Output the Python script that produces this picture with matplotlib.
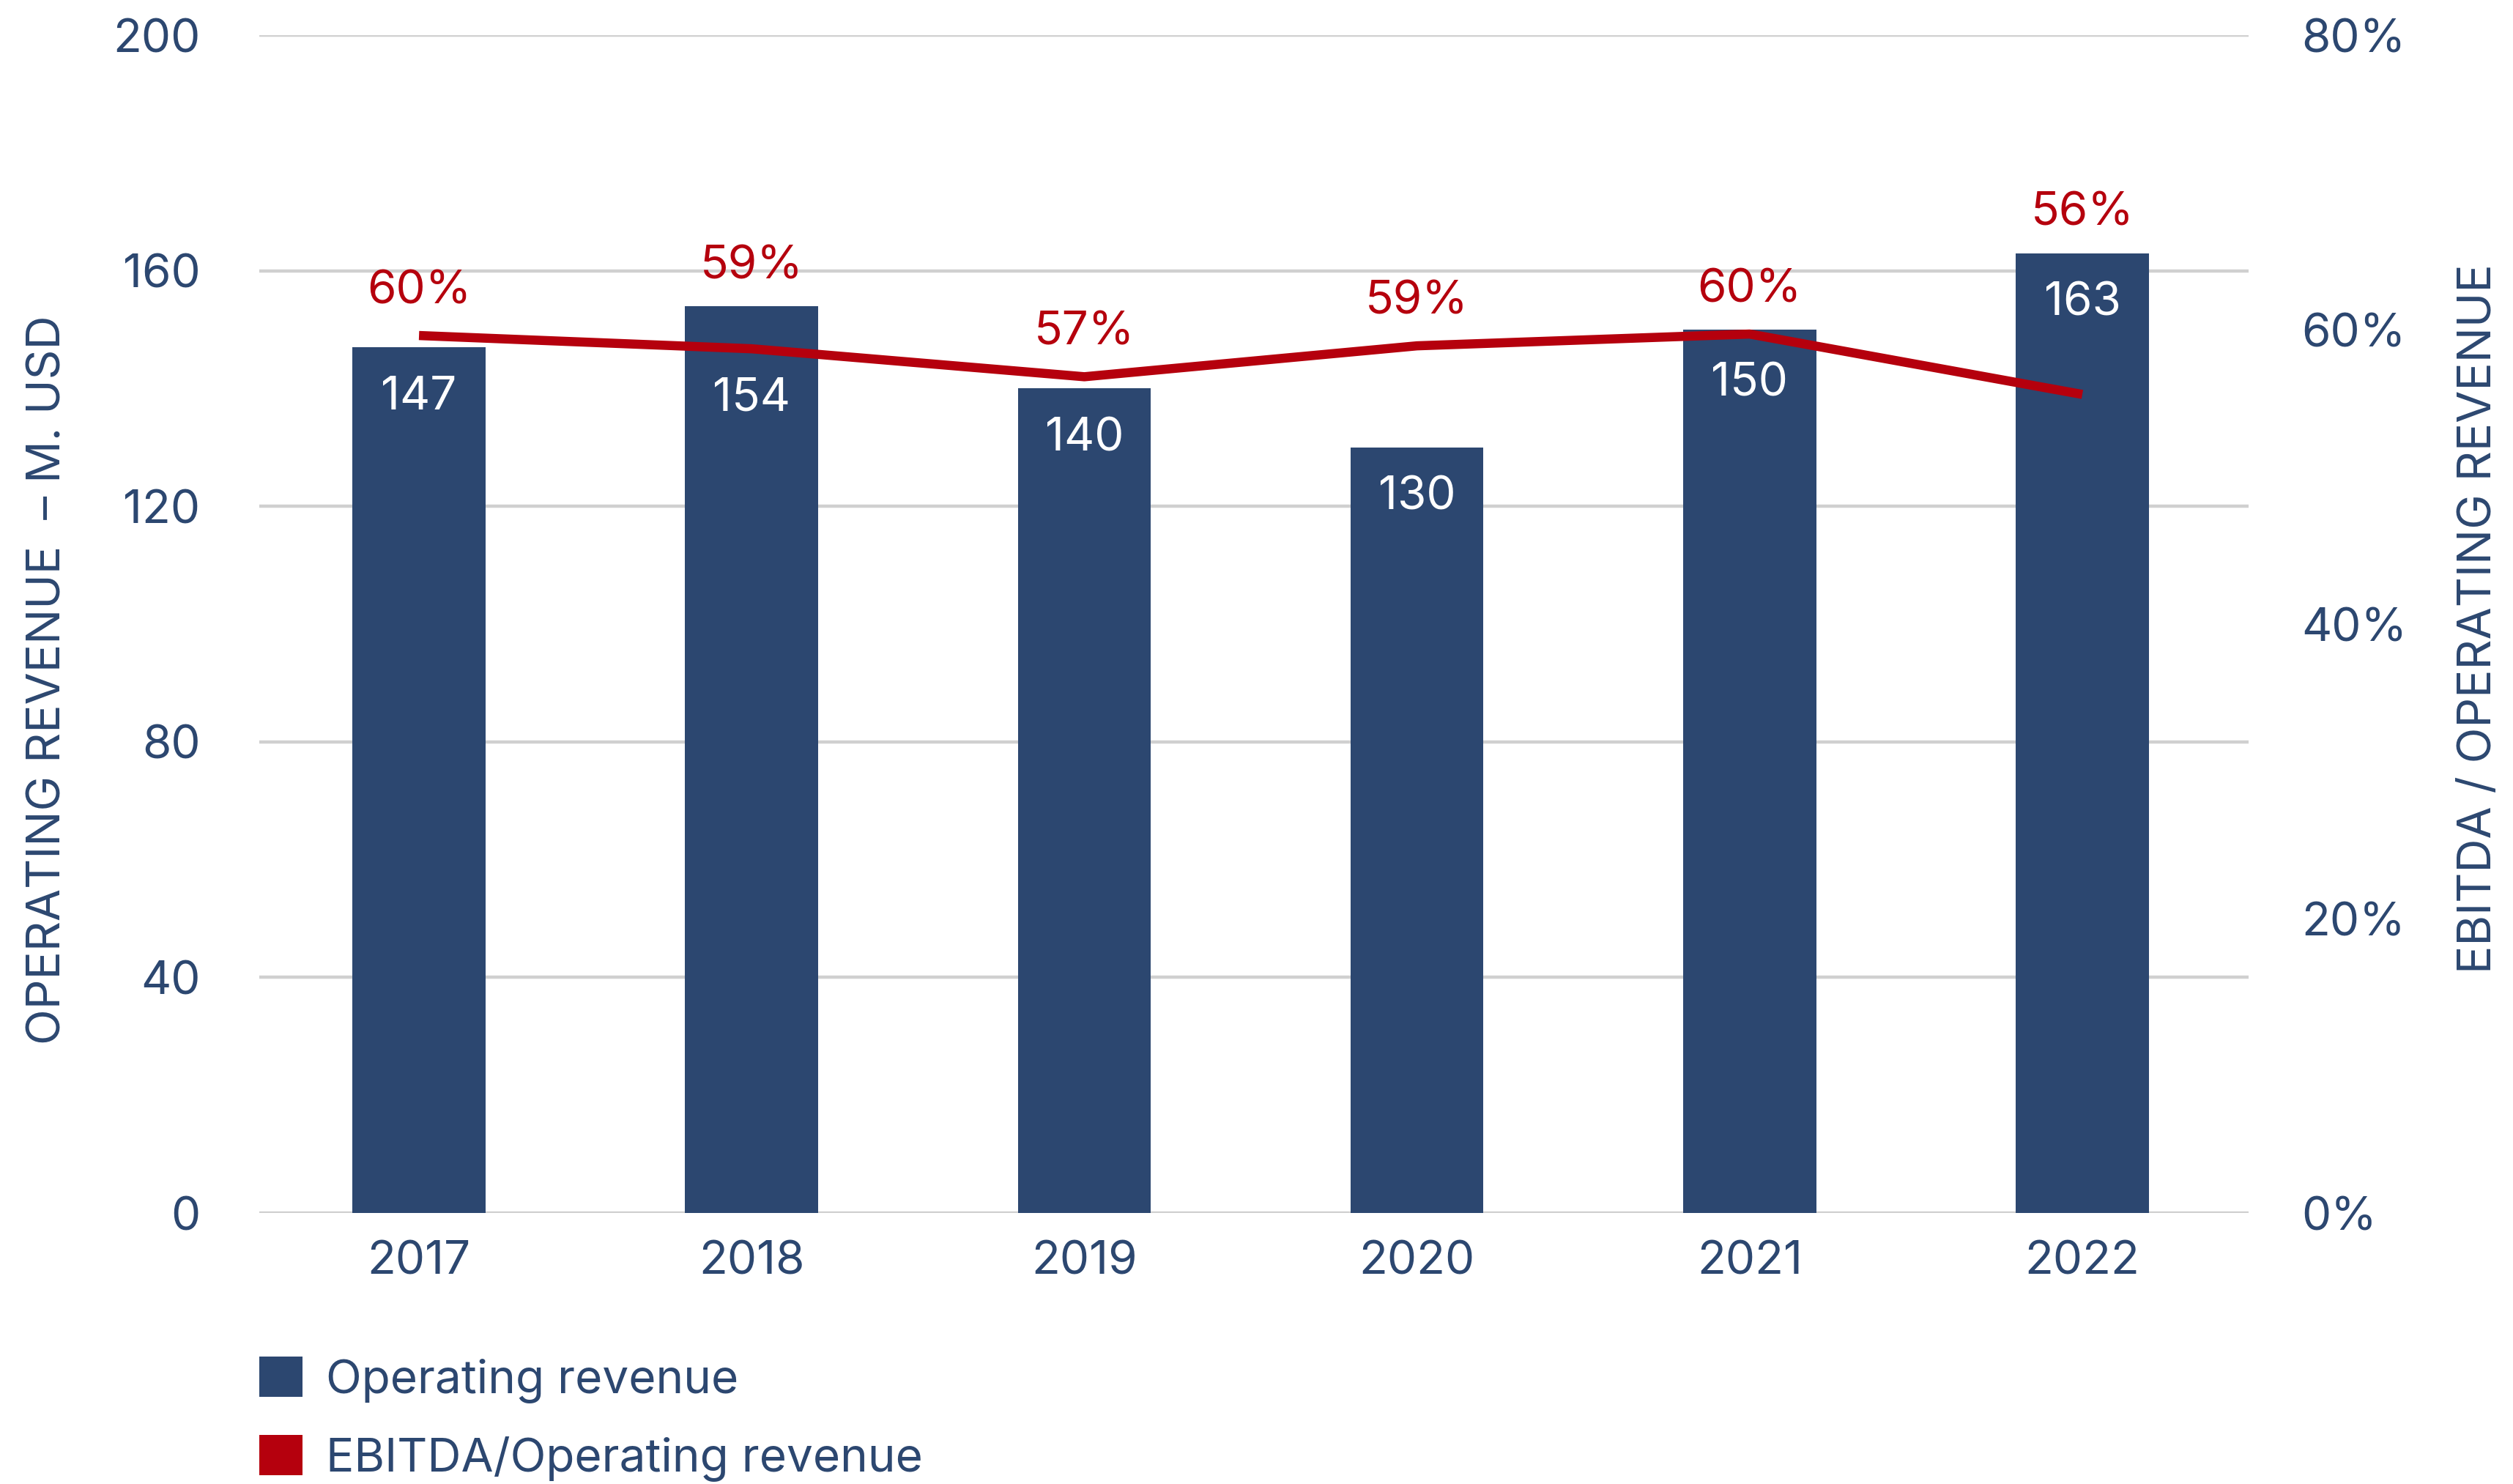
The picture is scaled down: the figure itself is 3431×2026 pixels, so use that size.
import matplotlib
matplotlib.use("Agg")
import matplotlib.pyplot as plt
from matplotlib.patches import Patch

plt.rcParams['font.family'] = ['Inter', 'DejaVu Sans']

# Operating revenue (M. USD) and EBITDA margin (%) per year
years = ['2017', '2018', '2019', '2020', '2021', '2022']
revenue = [147, 154, 140, 130, 150, 163]
ebitda_margin = [59.6, 58.7, 56.8, 58.9, 59.7, 55.6]

left_ticks = [0, 40, 80, 120, 160, 200]
right_ticks = [0, 20, 40, 60, 80]

NAVY = '#2C4770'
RED = '#B5000D'
GRID = '#D0D0D0'
FS = 46

fig = plt.figure(figsize=(34.31, 20.26), dpi=100)
ax = fig.add_axes([0.1032, 0.1826, 0.7916, 0.7937])
ax2 = ax.twinx()

x = list(range(len(years)))
ax.bar(x, revenue, width=0.4, color=NAVY, zorder=3)

ax.set_ylim(0, 200)
ax.set_xlim(-0.48, 5.5)
ax.set_yticks(left_ticks)
ax.set_xticks(x)
ax.set_xticklabels(years)
ax.yaxis.grid(True, color=GRID, linewidth=3.2, zorder=0)
ax.set_axisbelow(True)
for s in ax.spines.values():
    s.set_visible(False)
for s in ax2.spines.values():
    s.set_visible(False)
ax.tick_params(axis='y', length=0, pad=58, labelsize=FS, labelcolor=NAVY)
ax.tick_params(axis='x', length=0, pad=27, labelsize=FS, labelcolor=NAVY)

ax2.plot(x, ebitda_margin, color=RED, linewidth=9, solid_capstyle='butt', zorder=4)
ax2.set_ylim(0, 80)
ax2.set_yticks(right_ticks)
ax2.set_yticklabels([f'{t}%' for t in right_ticks])
ax2.tick_params(axis='y', length=0, pad=52, labelsize=FS, labelcolor=NAVY)

# scale factor between the two y axes
k = 200 / 80

for i, (rev, pct) in enumerate(zip(revenue, ebitda_margin)):
    line_left = pct * k
    # value label inside the bar, pushed below the line when it crosses the bar top
    anchor = min(rev, line_left) if rev - line_left < 10 else rev
    ax.text(i, anchor - 8.5, str(rev), color='white', fontsize=FS,
            ha='center', va='center', zorder=5)
    # margin label above whichever is higher: line or bar
    top = max(pct, rev / k)
    off = 3.0 if pct >= rev / k else 2.7
    ax2.text(i, top + off, f'{round(pct)}%', color=RED, fontsize=FS,
             ha='center', va='center', zorder=5)

fig.text(66 / 3431, 1 - 928 / 2026, 'OPERATING REVENUE  – M. USD', rotation=90,
         color=NAVY, fontsize=FS, ha='center', va='center')
fig.text(3385 / 3431, 1 - 845 / 2026, 'EBITDA / OPERATING REVENUE', rotation=90,
         color=NAVY, fontsize=FS, ha='center', va='center')

handles = [Patch(facecolor=NAVY, edgecolor='none'), Patch(facecolor=RED, edgecolor='none')]
leg = fig.legend(handles, ['Operating revenue', 'EBITDA/Operating revenue'],
                 loc='upper left', bbox_to_anchor=(354 / 3431, 1 - 1852 / 2026),
                 frameon=False, fontsize=FS, handlelength=0.92, handleheight=0.95,
                 handletextpad=0.5, labelspacing=0.68, borderpad=0, borderaxespad=0)
for t in leg.get_texts():
    t.set_color(NAVY)

fig.savefig('out.png', dpi=100, facecolor='white')
